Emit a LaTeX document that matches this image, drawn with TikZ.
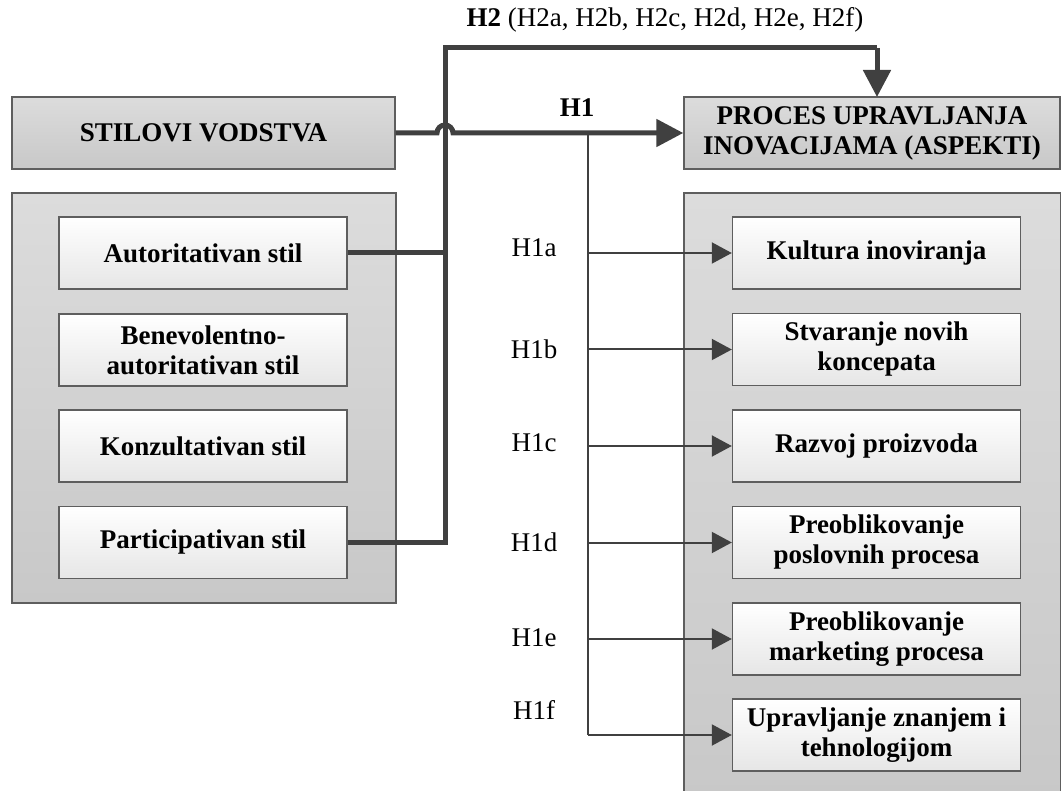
\documentclass[tikz,border=0pt]{standalone}
\usepackage{fontspec}
\setmainfont{Liberation Serif}
\usetikzlibrary{arrows.meta}
\definecolor{edge}{HTML}{5E5E5E}
\definecolor{conn}{HTML}{404040}
\definecolor{outtop}{HTML}{DCDCDC}
\definecolor{outbot}{HTML}{C8C8C8}
\definecolor{intop}{HTML}{FFFFFF}
\definecolor{inbot}{HTML}{E6E6E6}
\tikzset{
  outerbox/.style={draw=edge, line width=0.7pt, top color=outtop, bottom color=outbot, rectangle, inner sep=0pt},
  headbox/.style={outerbox, minimum height=36pt, align=center, font=\fontsize{13.5}{15}\selectfont\bfseries},
  innerbox/.style={draw=edge, line width=0.7pt, top color=intop, bottom color=inbot, rectangle, minimum width=144pt, minimum height=36pt, align=center, inner sep=0pt, font=\fontsize{13.5}{15}\selectfont\bfseries},
  thickline/.style={draw=conn, line width=2.5pt},
  thinline/.style={draw=conn, line width=1pt},
  bigtip/.style={-{Triangle[length=13.5pt,width=13.5pt]}},
  smalltip/.style={-{Triangle[length=10pt,width=10.5pt]}},
  hlabel/.style={font=\fontsize{13.5}{15}\selectfont, inner sep=0pt}
}
\begin{document}
\begin{tikzpicture}[x=0.5pt,y=-0.5pt]
\useasboundingbox (0,0) rectangle (1061,791);
\clip (0,0) rectangle (1061,791);
\fill[white] (0,0) rectangle (1061,791);

% containers
\node[outerbox, minimum width=192pt, minimum height=205pt] (lcont) at (204,398) {};
\node[outerbox, minimum width=188.5pt, minimum height=303.5pt] (rcont) at (872.5,496.5) {};

% headers
\node[headbox, minimum width=191.5pt] (stil) at (203.5,133) {STILOVI VODSTVA};
\node[headbox, minimum width=188pt] (proc) at (872,133) {PROCES UPRAVLJANJA\\INOVACIJAMA (ASPEKTI)};

% left inner boxes
\node[innerbox] (aut) at (203,253) {Autoritativan stil};
\node[innerbox] (ben) at (203,350) {Benevolentno-\\autoritativan stil};
\node[innerbox] (kon) at (203,446) {Konzultativan stil};
\node[innerbox] (par) at (203,542.5) {Participativan stil};

% right inner boxes
\node[innerbox] (kul) at (876.5,253) {Kultura inoviranja};
\node[innerbox] (stv) at (876.5,349.5) {Stvaranje novih\\koncepata};
\node[innerbox] (raz) at (876.5,446) {Razvoj proizvoda};
\node[innerbox] (pos) at (876.5,542.5) {Preoblikovanje\\poslovnih procesa};
\node[innerbox] (mar) at (876.5,639) {Preoblikovanje\\marketing procesa};
\node[innerbox] (upr) at (876.5,735) {Upravljanje znanjem i\\tehnologijom};

% H2 connector
\coordinate (j1) at (445,253);
\coordinate (j2) at (445,542.5);
\coordinate (top) at (445,48);
\coordinate (topr) at (877,48);
\coordinate (h2end) at (877,97);
\draw[thickline] (aut.east) -- (j1);
\draw[thickline] (par.east) -- (j2) -- (top) -- (topr);
\draw[thickline, bigtip] (topr) -- (h2end);

% H1 connector with jump
\coordinate (jumpa) at (437,133);
\draw[thickline, bigtip] (stil.east) -- (jumpa) arc[start angle=180, end angle=0, radius=4pt] -- (proc.west);

% H1 branches
\coordinate (b0) at (588,133);
\coordinate (b6) at (588,735);
\draw[thinline] (b0) -- (b6);
\draw[thinline, smalltip] (b0 |- kul.west) -- (kul.west);
\draw[thinline, smalltip] (b0 |- stv.west) -- (stv.west);
\draw[thinline, smalltip] (b0 |- raz.west) -- (raz.west);
\draw[thinline, smalltip] (b0 |- pos.west) -- (pos.west);
\draw[thinline, smalltip] (b0 |- mar.west) -- (mar.west);
\draw[thinline, smalltip] (b6) -- (upr.west);

% labels
\node[hlabel] (lh2) at (665,20) {\textbf{H2} (H2a, H2b, H2c, H2d, H2e, H2f)};
\node[hlabel, font=\fontsize{13.5}{15}\selectfont\bfseries] (lh1) at (577,108) {H1};
\node[hlabel] (l1a) at (534,248) {H1a};
\node[hlabel] (l1b) at (534,349) {H1b};
\node[hlabel] (l1c) at (534,443) {H1c};
\node[hlabel] (l1d) at (534,542) {H1d};
\node[hlabel] (l1e) at (534,638) {H1e};
\node[hlabel] (l1f) at (534,710) {H1f};
\end{tikzpicture}
\end{document}
